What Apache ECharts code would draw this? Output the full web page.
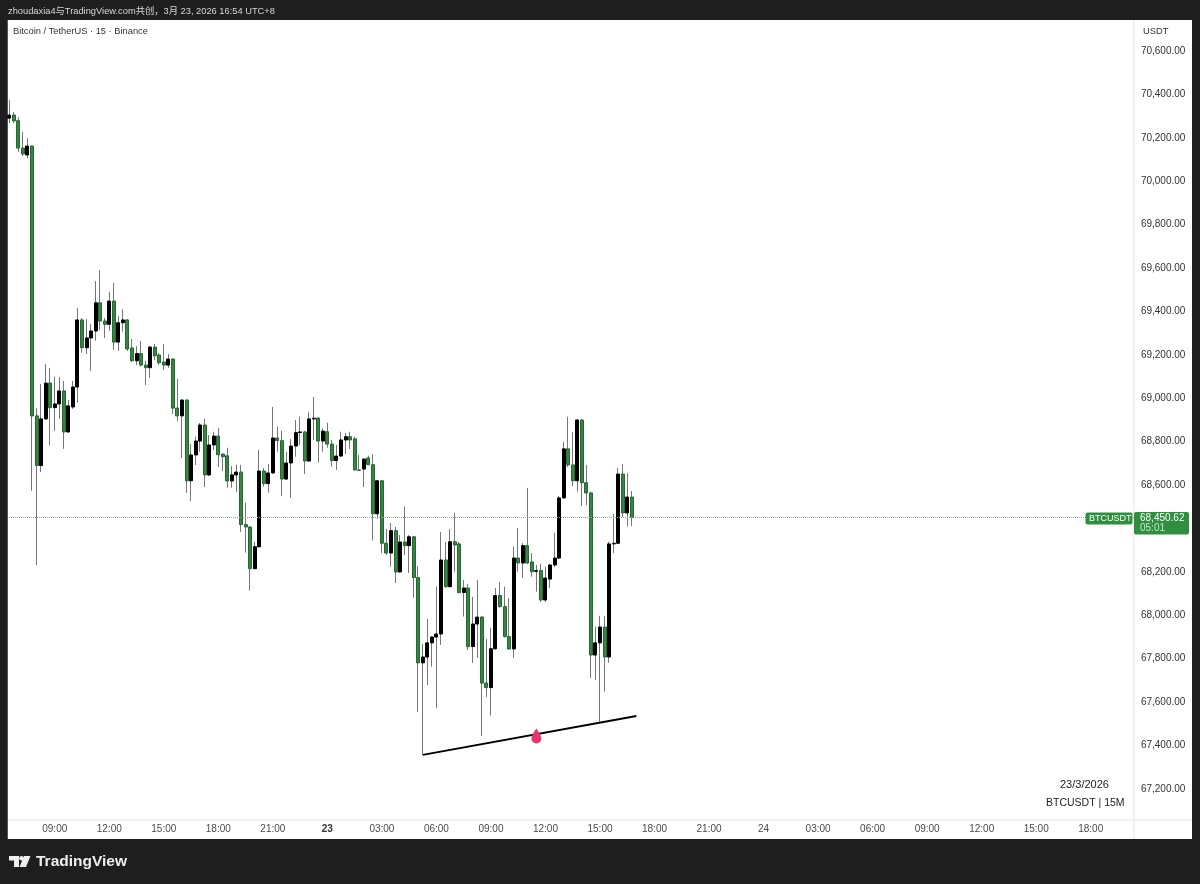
<!DOCTYPE html>
<html>
<head>
<meta charset="utf-8">
<style>
  html, body { margin: 0; padding: 0; background: #1e1e1e; }
  #chart { width: 1200px; height: 884px; }
</style>
<script src="https://cdn.jsdelivr.net/npm/echarts@6/dist/echarts.min.js"></script>
</head>
<body>
<div id="chart"></div>
<script>
const opens = [70291,70305,70279,70153,70121,70162,68919,68690,68905,69070,68957,68974,69034,68845,68960,69052,69361,69233,69278,69310,69440,69356,69341,69448,69259,69348,69361,69232,69173,69206,69153,69141,69236,69199,69167,69153,69181,68955,68919,68992,68620,68739,68803,68877,68647,68785,68826,68743,68735,68619,68647,68660,68418,68407,68215,68316,68665,68607,68656,68817,68805,68628,68702,68780,68842,68845,68711,68905,68909,68803,68846,68789,68713,68734,68808,68823,68813,68670,68674,68725,68694,68468,68620,68332,68287,68390,68200,68338,68321,68362,68174,67781,67808,67873,67900,67914,68255,68132,68339,68329,68105,68126,67856,67960,67992,67688,67667,67846,68091,68040,67902,67845,68264,68241,68321,68246,68203,68206,68071,68167,68232,68264,68541,68767,68693,68620,68900,68611,68564,67817,67873,67946,67808,68329,68332,68651,68472,68545];
const closes = [70305,70278,70153,70126,70162,68919,68690,68905,69070,68957,68974,69034,68845,68965,69052,69361,69233,69278,69310,69440,69356,69341,69448,69259,69348,69361,69227,69173,69206,69153,69141,69236,69196,69164,69153,69181,68955,68919,68992,68620,68739,68803,68877,68647,68785,68826,68740,68731,68619,68647,68660,68418,68407,68215,68316,68665,68607,68656,68817,68805,68628,68702,68780,68842,68845,68711,68905,68908,68803,68849,68789,68713,68734,68808,68823,68808,68670,68668,68720,68694,68468,68620,68332,68287,68390,68200,68338,68321,68362,68174,67781,67808,67873,67900,67914,68255,68132,68339,68324,68105,68126,67856,67960,67992,67688,67667,67846,68091,68040,67902,67845,68264,68241,68321,68241,68201,68206,68071,68172,68232,68264,68541,68767,68693,68620,68900,68611,68564,67817,67873,67946,67808,68329,68332,68651,68472,68545,68450.62];
const lows = [70268,70268,70135,70116,70107,68574,68232,68660,68900,68782,68849,68905,68767,68840,68951,68980,69210,69204,69126,69265,69315,69278,69311,69223,69218,69307,69218,69167,69153,69146,69061,69094,69176,69153,69130,69141,68928,68895,68725,68564,68527,68693,68754,68591,68642,68762,68683,68665,68588,68588,68568,68384,68289,68114,68212,68312,68593,68565,68652,68754,68550,68624,68542,68731,68785,68651,68707,68808,68703,68754,68772,68685,68670,68730,68743,68767,68666,68665,68591,68693,68344,68444,68287,68278,68224,68149,68196,68278,68195,68081,67555,67357,67679,67764,67573,67864,68126,68128,68201,68101,67994,67840,67781,67804,67444,67624,67538,67842,68036,67898,67842,67804,68201,68172,68237,68178,68109,68062,68062,68126,68223,68260,68537,68683,68596,68570,68505,68508,67711,67702,67510,67648,67781,68287,68328,68453,68409,68412];
const highs = [70374,70319,70296,70227,70199,70165,68955,69066,69158,69140,69100,69098,69080,68992,69080,69416,69370,69365,69342,69540,69591,69370,69491,69531,69379,69411,69365,69273,69241,69264,69173,69240,69250,69209,69250,69204,69185,69089,68996,68996,68789,68823,68886,68905,68831,68846,68863,68746,68772,68688,68693,68693,68519,68410,68339,68762,68679,68697,68960,68869,68851,68753,68813,68900,68915,68848,68938,69006,68912,68863,68888,68808,68785,68846,68840,68846,68823,68739,68723,68736,68743,68624,68624,68398,68425,68407,68370,68501,68370,68366,68227,67868,67983,67904,68132,68384,68338,68398,68473,68339,68163,68145,68085,68163,67996,67891,67942,68126,68155,68132,68080,68316,68402,68333,68587,68287,68232,68237,68224,68236,68380,68550,68800,68915,68845,68904,68904,68693,68570,67948,67998,67998,68339,68467,68679,68697,68656,68573];

const priceTicks = [70600,70400,70200,70000,69800,69600,69400,69200,69000,68800,68600,68400,68200,68000,67800,67600,67400,67200];
const timeTicks = ['09:00','12:00','15:00','18:00','21:00','23','03:00','06:00','09:00','12:00','15:00','18:00','21:00','24','03:00','06:00','09:00','12:00','15:00','18:00'];
const lastPrice = 68450.62;

const trendLine = [[91, 67357], [138, 67536]];
const dropMark = [[116, 67444]];

// 15 minute bars from 22 Mar 06:30, the empty ones run on into the 24th
const categories = [];
for (let i = 0; i < 248; i++) {
  const t = new Date(Date.UTC(2026, 2, 22, 6, 30 + i * 15));
  categories.push(t.toISOString().slice(5, 16).replace('T', ' '));
}

const DARK = '#1e1e1e';
const FONT = '"Liberation Sans", "Noto Sans CJK SC", sans-serif';

function label(text, x, y, size, color, extra) {
  return {
    type: 'text',
    z: 20,
    style: Object.assign({ text, x, y, fill: color, font: size + 'px ' + FONT, verticalAlign: 'middle' }, extra)
  };
}

function rect(x, y, width, height, color, z, r) {
  return { type: 'rect', z, shape: { x, y, width, height, r: r || 0 }, style: { fill: color } };
}

const chart = echarts.init(document.getElementById('chart'));
chart.setOption({
  animation: false,
  backgroundColor: DARK,
  grid: { left: 7.03, right: 66.1, top: 20, bottom: 64 },
  xAxis: {
    type: 'category',
    data: categories,
    axisLine: { show: false },
    axisTick: { show: false },
    splitLine: { show: false },
    axisLabel: {
      margin: 4,
      color: '#4a4a4a',
      fontFamily: 'Liberation Sans',
      fontSize: 10,
      interval: i => i >= 10 && (i - 10) % 12 === 0,
      formatter: (v, i) => {
        const s = timeTicks[(i - 10) / 12]
        return s === '23' ? '{day|' + s + '}' : s
      },
      rich: { day: { fontWeight: 'bold', color: '#333', fontFamily: 'Liberation Sans', fontSize: 10 } }
    }
  },
  yAxis: {
    type: 'value',
    position: 'right',
    min: 67057,
    max: 70743,
    axisLine: { show: false },
    axisTick: { show: false },
    splitLine: { show: false },
    axisLabel: {
      customValues: priceTicks,
      margin: 7,
      color: '#333',
      fontFamily: 'Liberation Sans',
      fontSize: 10,
      formatter: v => v.toLocaleString('en-US', { minimumFractionDigits: 2 })
    }
  },
  series: [
    {
      name: 'wicks',
      type: 'candlestick',
      barWidth: 1,
      z: 3,
      silent: true,
      itemStyle: { color: '#777', color0: '#777', borderColor: '#777', borderColor0: '#777', borderWidth: 1 },
      data: opens.map((o, i) => [o, closes[i], lows[i], highs[i]]),
      markLine: {
        silent: true,
        symbol: 'none',
        label: { show: false },
        lineStyle: { type: 'dotted', color: '#7fae88', width: 1 },
        data: [{ yAxis: lastPrice }]
      }
    },
    {
      name: 'bodies',
      type: 'candlestick',
      barWidth: 3.5,
      z: 4,
      silent: true,
      itemStyle: { color: '#000', color0: '#3f7f4a', borderColor: '#000', borderColor0: '#1f6b2c', borderWidth: 1 },
      data: opens.map((o, i) => [o, closes[i], Math.min(o, closes[i]), Math.max(o, closes[i])])
    },
    {
      name: 'trend',
      type: 'line',
      z: 5,
      silent: true,
      symbol: 'none',
      lineStyle: { color: '#000', width: 2 },
      data: trendLine
    },
    {
      name: 'drop',
      type: 'scatter',
      z: 6,
      silent: true,
      symbol: 'path://M5 0C5 0 10 7 10 10A5 5 0 0 1 0 10C0 7 5 0 5 0Z',
      symbolSize: [10, 15],
      itemStyle: { color: '#e8336d', opacity: 1 },
      data: dropMark
    }
  ],
  graphic: [
    // white panel under the chart and the frame over it
    rect(7.5, 20, 1184.5, 819, '#fff', 0),
    rect(0, 0, 7.5, 884, DARK, 10),
    { type: 'line', z: 1, shape: { x1: 1134, y1: 20, x2: 1134, y2: 839 }, style: { stroke: '#e0e3eb', lineWidth: 1 } },
    { type: 'line', z: 1, shape: { x1: 8, y1: 820, x2: 1192, y2: 820 }, style: { stroke: '#e0e3eb', lineWidth: 1 } },

    label('zhoudaxia4与TradingView.com共创，3月 23, 2026 16:54 UTC+8', 8, 11, 9.3, '#d8d8d8'),
    label('Bitcoin / TetherUS · 15 · Binance', 13, 31, 9.3, '#333'),
    label('USDT', 1143, 31, 9.3, '#333'),
    label('23/3/2026', 1060, 785, 11, '#222'),
    label('BTCUSDT | 15M', 1046, 803, 10.5, '#222'),

    rect(1085.5, 512.5, 47, 12, '#2f8f3f', 20, 2),
    label('BTCUSDT', 1089, 518.5, 9, '#fff'),
    rect(1134, 512, 55, 22.5, '#2f8f3f', 20, 2),
    label('68,450.62', 1140, 518, 10, '#fff'),
    label('05:01', 1140, 528.5, 10, '#c9e4cd'),

    { type: 'polygon', z: 20, shape: { points: [[9, 856], [19, 856], [19, 867], [14, 867], [14, 860.5], [9, 860.5]] }, style: { fill: '#eee' } },
    { type: 'polygon', z: 20, shape: { points: [[24, 856], [30.5, 856], [26, 867], [19.5, 867]] }, style: { fill: '#eee' } },
    { type: 'circle', z: 20, shape: { cx: 21.5, cy: 858.3, r: 2.3 }, style: { fill: '#eee' } },
    label('TradingView', 36, 862, 15.5, '#eee', { font: 'bold 15.5px ' + FONT })
  ]
});
</script>
</body>
</html>
